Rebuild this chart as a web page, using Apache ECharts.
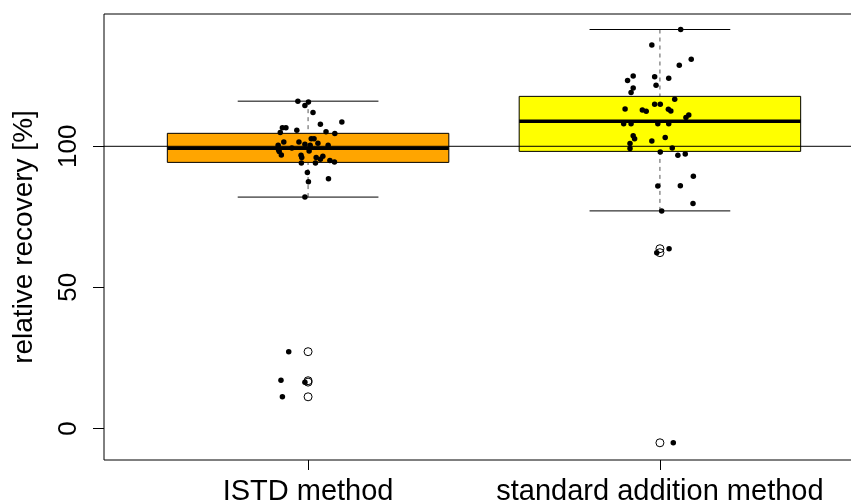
<!DOCTYPE html>
<html><head><meta charset="utf-8">
<script src="https://cdn.jsdelivr.net/npm/echarts@6/dist/echarts.min.js"></script>
<style>html,body{margin:0;padding:0;background:#fff}#c{width:851px;height:502px}</style>
</head><body><div id="c"></div>
<script>
// ---- data ----
var categories = ['ISTD method', 'standard addition method'];
var boxColors = ['#FFA500', '#FFFF00'];
// [lower whisker, Q1, median, Q3, upper whisker]
var istdBox = [82.0, 94.3, 99.3, 104.6, 116.0];
var saBox = [77.1, 98.2, 108.9, 117.7, 141.4];
var istdOutliers = [27.2, 16.9, 16.4, 11.2];
var saOutliers = [63.7, 62.3, -5.1];
// jittered raw points: horizontal jitter offset and value
var istdJitter = [-0.029,0.001,-0.009,0.014,0.035,0.096,-0.073,-0.063,-0.079,-0.032,0.051,0.076,0.009,0.017,-0.069,-0.026,0.028,-0.009,0.006,-0.085,0.057,-0.046,-0.084,-0.082,-0.076,-0.020,0.003,-0.018,0.023,0.042,0.035,0.062,0.075,-0.019,0.021,-0.002,0.001,0.058,-0.009,-0.055,-0.077,-0.009,-0.073];
var istdValues = [116.0,115.7,114.5,112.0,107.8,108.6,106.6,106.6,104.9,105.7,105.2,104.5,102.7,102.7,101.5,101.5,101.1,100.7,100.4,100.4,100.4,99.4,98.8,98.2,96.9,96.8,98.3,96.0,96.0,96.5,95.4,95.0,94.4,94.1,94.1,90.7,87.4,88.5,82.0,27.2,17.1,16.4,11.2];
var saJitter = [0.059,-0.023,0.089,0.055,-0.076,-0.092,-0.015,0.025,-0.011,-0.076,-0.082,0.042,-0.099,-0.015,0.001,-0.050,-0.039,0.024,0.031,0.074,0.082,-0.103,-0.082,-0.006,0.025,-0.076,-0.072,-0.023,0.015,-0.085,-0.085,0.001,0.035,0.051,0.072,0.095,-0.006,0.058,0.094,0.005,0.026,-0.009,0.038];
var saValues = [141.4,135.9,130.9,128.7,124.9,123.3,124.7,124.1,121.6,120.7,119.1,116.7,113.2,114.9,114.9,112.9,112.4,113.1,112.5,110.2,111.1,108.0,108.0,108.0,108.0,103.7,102.7,101.9,103.1,101.0,99.2,98.0,99.4,96.8,97.3,89.4,85.9,86.0,79.7,77.1,63.7,62.3,-5.1];
var yTicks = [0, 50, 100];
var refLine = 100;

// ---- build option ----
var boxes = [istdBox, saBox];
var boxData = boxes.map(function (b, i) { return [i + 1].concat(b); });
var outlierData = [];
istdOutliers.forEach(function (v) { outlierData.push([1, v]); });
saOutliers.forEach(function (v) { outlierData.push([2, v]); });
var pointData = [];
istdValues.forEach(function (v, i) { pointData.push([1 + istdJitter[i], v]); });
saValues.forEach(function (v, i) { pointData.push([2 + saJitter[i], v]); });

var chart = echarts.init(document.getElementById('c'), null, {renderer: 'canvas'});
var FONT = 'Liberation Sans, Arial, sans-serif';
chart.setOption({
  animation: false,
  backgroundColor: '#fff',
  grid: {left: 104, top: 14, width: 760, height: 446, show: true, borderColor: '#000', borderWidth: 1,
    backgroundColor: 'transparent', containLabel: false, outerBoundsMode: 'none'},
  xAxis: {
    type: 'value', min: 0.42, max: 2.58,
    splitLine: {show: false},
    axisLine: {show: false, onZero: false},
    axisTick: {show: true, length: 10, lineStyle: {color: '#000'}, customValues: [1, 2]},
    axisLabel: {show: true, customValues: [1, 2], margin: 17, color: '#000', fontSize: 29, fontFamily: FONT,
      formatter: function (v) { return categories[Math.round(v) - 1] || ''; }}
  },
  yAxis: {
    type: 'value', min: -11.2, max: 146.9,
    splitLine: {show: false},
    axisLine: {show: false, onZero: false},
    axisTick: {show: true, length: 11, lineStyle: {color: '#000'}, customValues: yTicks},
    axisLabel: {show: true, customValues: yTicks, rotate: 90, margin: 22, color: '#000', fontSize: 26, fontFamily: FONT},
    name: 'relative recovery [%]', nameLocation: 'middle', nameGap: 66, nameRotate: 90,
    nameTextStyle: {color: '#000', fontSize: 28, fontFamily: FONT}
  },
  series: [
    {
      type: 'custom', z: 1,
      data: boxData,
      encode: {x: 0, y: [1, 2, 3, 4, 5]},
      renderItem: function (params, api) {
        var x = api.value(0);
        var lo = api.value(1), q1 = api.value(2), med = api.value(3), q3 = api.value(4), hi = api.value(5);
        var color = boxColors[params.dataIndex];
        var pL = api.coord([x - 0.4, q3]), pR = api.coord([x + 0.4, q1]);
        var cl = api.coord([x - 0.2, hi]), cr = api.coord([x + 0.2, lo]);
        var pHi = api.coord([x, hi]), pLo = api.coord([x, lo]);
        var pQ3 = api.coord([x, q3]), pQ1 = api.coord([x, q1]);
        var medL = api.coord([x - 0.4, med]), medR = api.coord([x + 0.4, med]);
        var dash = {stroke: '#555', lineWidth: 1, lineDash: [4, 4]};
        return {type: 'group', children: [
          {type: 'line', shape: {x1: pHi[0], y1: pHi[1], x2: pQ3[0], y2: pQ3[1]}, style: dash},
          {type: 'line', shape: {x1: pLo[0], y1: pLo[1], x2: pQ1[0], y2: pQ1[1]}, style: dash},
          {type: 'line', shape: {x1: cl[0], y1: pHi[1], x2: cr[0], y2: pHi[1]}, style: {stroke: '#000', lineWidth: 1}},
          {type: 'line', shape: {x1: cl[0], y1: pLo[1], x2: cr[0], y2: pLo[1]}, style: {stroke: '#000', lineWidth: 1}},
          {type: 'rect', shape: {x: pL[0], y: pL[1], width: pR[0] - pL[0], height: pR[1] - pL[1]}, style: {fill: color, stroke: '#000', lineWidth: 1}},
          {type: 'line', shape: {x1: medL[0], y1: medL[1], x2: medR[0], y2: medR[1]}, style: {stroke: '#000', lineWidth: 3.5}}
        ]};
      }
    },
    {
      type: 'line', z: 2, data: [[0.42, refLine], [2.58, refLine]], symbol: 'none',
      lineStyle: {color: '#000', width: 1}, silent: true
    },
    {
      type: 'scatter', z: 3, data: outlierData, symbol: 'circle', symbolSize: 8,
      itemStyle: {color: 'rgba(255,255,255,0)', borderColor: '#000', borderWidth: 1, opacity: 1}
    },
    {
      type: 'scatter', z: 4, data: pointData, symbol: 'circle', symbolSize: 5.5,
      itemStyle: {color: '#000', opacity: 1}
    }
  ]
});
</script></body></html>
